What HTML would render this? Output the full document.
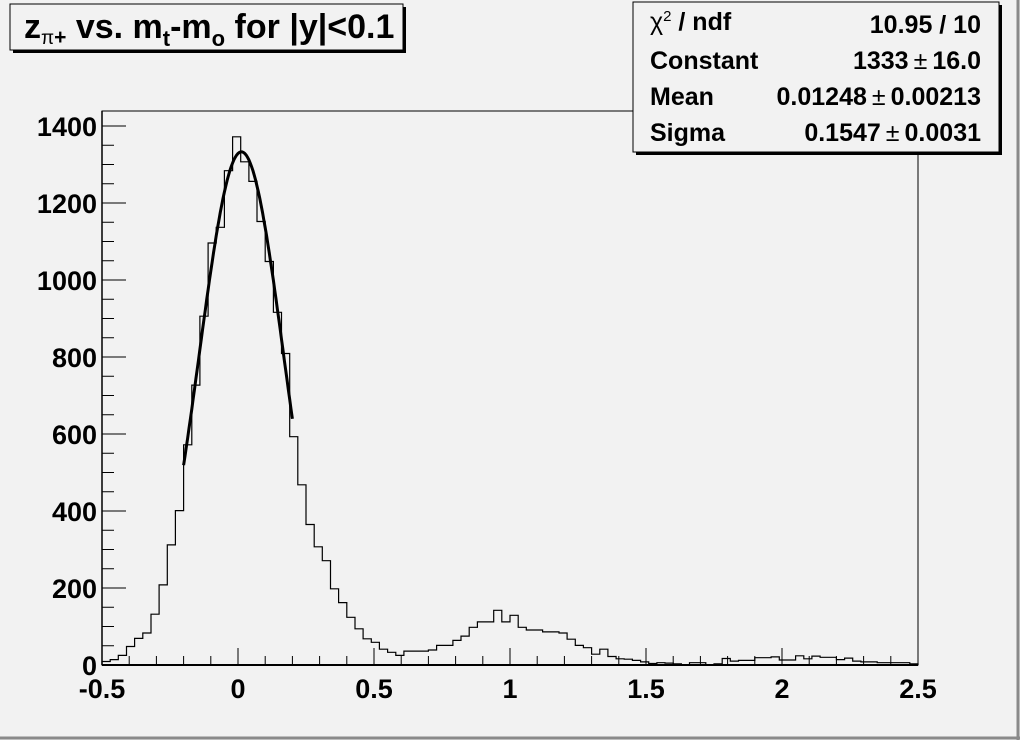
<!DOCTYPE html>
<html><head><meta charset="utf-8"><style>
html,body{margin:0;padding:0;background:#f2f2f2;}
svg{display:block;font-family:"Liberation Sans",Arial,sans-serif;font-weight:bold;}
</style></head><body>
<svg id="s" width="1020" height="740" viewBox="0 0 1020 740">
<rect x="0" y="0" width="1020" height="740" fill="#f2f2f2"/>
<line x1="1018" y1="0" x2="1018" y2="740" stroke="#8a8a8a" stroke-width="3"/>
<line x1="0" y1="738" x2="1020" y2="738" stroke="#8a8a8a" stroke-width="3"/>
<rect x="102" y="111" width="816" height="554" fill="#f2f2f2" stroke="#000" stroke-width="1"/>
<g id="ticks" stroke="#000" stroke-width="1"></g>
<path id="h" fill="none" stroke="#000" stroke-width="1.2"/>
<path id="g" fill="none" stroke="#000" stroke-width="3"/>
<line x1="102" y1="665" x2="918" y2="665" stroke="#000" stroke-width="2"/>
<line x1="102" y1="111" x2="102" y2="665" stroke="#000" stroke-width="1.5"/>
<g font-size="27" text-anchor="end">
<text x="97" y="675">0</text><text x="97" y="598">200</text><text x="97" y="521">400</text><text x="97" y="444">600</text><text x="97" y="367">800</text><text x="97" y="290">1000</text><text x="97" y="213">1200</text><text x="97" y="136">1400</text>
</g>
<g font-size="27" text-anchor="middle">
<text x="102" y="698">-0.5</text><text x="238" y="698">0</text><text x="374" y="698">0.5</text><text x="510" y="698">1</text><text x="646" y="698">1.5</text><text x="782" y="698">2</text><text x="918" y="698">2.5</text>
</g>
<rect x="13" y="7" width="393" height="46" fill="#000"/>
<rect x="10" y="4" width="393" height="46" fill="#f2f2f2" stroke="#000" stroke-width="1"/>
<text x="24" y="38" font-size="34">z<tspan font-size="19" dy="6" font-weight="normal">π</tspan><tspan font-size="21" dy="0">+</tspan><tspan dy="-6"> vs. m</tspan><tspan font-size="22" dy="8">t</tspan><tspan dy="-8">-m</tspan><tspan font-size="22" dy="8">o</tspan><tspan dy="-8"> for |y|&lt;0.1</tspan></text>
<rect x="636" y="5" width="366" height="150" fill="#000"/>
<rect x="633" y="2" width="366" height="150" fill="#f2f2f2" stroke="#000" stroke-width="1"/>
<g font-size="25">
<text x="650" y="30" font-weight="normal">χ<tspan font-size="15" dy="-9">2</tspan><tspan dy="9" font-weight="bold"> / ndf</tspan></text>
<text x="650" y="69">Constant</text>
<text x="650" y="105">Mean</text>
<text x="650" y="141">Sigma</text>
<g text-anchor="end">
<text x="981" y="33">10.95 / 10</text>
<text x="981" y="69">1333<tspan dx="5" font-weight="normal">±</tspan><tspan dx="5">16.0</tspan></text>
<text x="981" y="105">0.01248<tspan dx="5" font-weight="normal">±</tspan><tspan dx="5">0.00213</tspan></text>
<text x="981" y="141">0.1547<tspan dx="5" font-weight="normal">±</tspan><tspan dx="5">0.0031</tspan></text>
</g></g>
</svg>
<script>
var v=[9,14,25,48,69,83,132,208,312,401,572,727,906,1096,1137,1284,1372,1307,1256,1152,1048,916,809,593,468,365,307,271,198,162,124,94,68,59,41,33,25,36,36,36,39,51,51,64,75,98,112,112,142,112,129,98,91,91,86,86,83,67,51,45,28,41,22,16,15,12,8,4,6,5,3,0,6,6,0,3,17,10,12,12,19,19,21,13,13,24,16,23,20,20,14,18,10,8,8,6,6,6,6,3];
function X(x){return 238+x*272;}function Y(y){return 665-y*0.385;}
var bw=8.16,d="M102,665";
for(var k=0;k<100;k++){var y=Y(v[k]).toFixed(1);d+=" L"+(102+k*bw).toFixed(1)+","+y+" L"+(102+(k+1)*bw).toFixed(1)+","+y;}
d+=" L918,665";document.getElementById("h").setAttribute("d",d);
var g="";for(var i=0;i<=80;i++){var x=-0.2+i*0.005;var y=1333*Math.exp(-0.5*Math.pow((x-0.01248)/0.1547,2));g+=(i?"L":"M")+X(x).toFixed(1)+","+Y(y).toFixed(1)+" ";}
document.getElementById("g").setAttribute("d",g);
var t="";
for(var i=0;i<=30;i++){var x=102+i*27.2;var L=(i%5==0)?17:9;t+='<line x1="'+x+'" y1="665" x2="'+x+'" y2="'+(665-L)+'"/>';}
for(var i=0;i<=28;i++){var y=665-i*50*0.385;var L=(i%4==0)?24:12;t+='<line x1="102" y1="'+y+'" x2="'+(102+L)+'" y2="'+y+'"/>';}
document.getElementById("ticks").innerHTML=t;
</script>
</body></html>
